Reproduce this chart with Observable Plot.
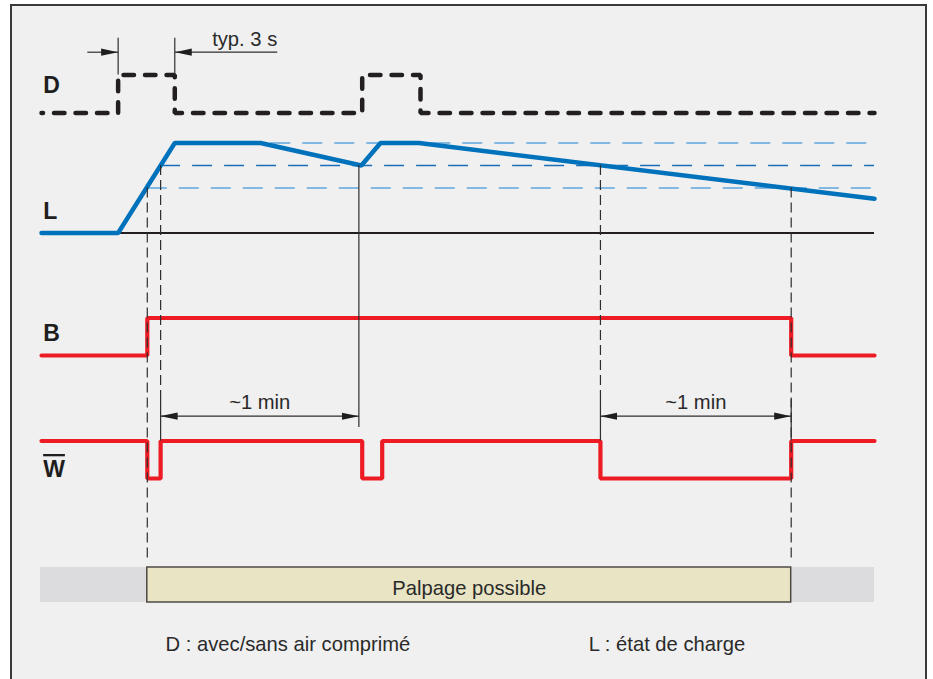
<!DOCTYPE html>
<html>
<head>
<meta charset="utf-8">
<script src="https://cdn.jsdelivr.net/npm/d3@7"></script>
<script src="https://cdn.jsdelivr.net/npm/@observablehq/plot@0.6"></script>
<style>
  body { margin: 0; background: #ffffff; }
  #wrap { position: relative; width: 933px; height: 679px; overflow: hidden; }
  #frame { position: absolute; left: 10px; top: 4px; width: 917px; height: 720px;
           border: 2px solid #3a3a3a; background: #f0f0f0; box-sizing: border-box; }
  #chart { position: absolute; left: 0; top: 0; }
</style>
</head>
<body>
<div id="wrap"><div id="frame"></div><div id="chart"></div></div>
<script>
// ---------- DATA (time in arbitrary units 0..100) ----------
const dTimes   = [0, 9.2, 16.0, 38.5, 45.5, 100];      // D : compressed air on/off
const dLevels  = [0, 1, 0, 1, 0, 0];
const lTimes   = [0, 9.2, 16.0, 26.3, 38.4, 40.7, 45.3, 100]; // L : charge state (%)
const lCharge  = [0, 0, 100, 100, 75, 100, 100, 38];
const bTimes   = [0, 12.7, 90, 100];                    // B
const bLevels  = [0, 1, 0, 0];
const wTimes   = [0, 12.7, 14.3, 38.5, 40.9, 67.1, 90, 100]; // W (inverted)
const wLevels  = [1, 0, 1, 0, 1, 0, 1, 1];
const thresholdsLight = [100, 50];
const thresholdsLightStart = [16.0, 12.7];
const thresholdsDark = [75];
const thresholdsDarkStart = [14.3];
const probeWindow = [12.7, 90];
const span3s = [9.2, 16.0];
const span3sLeader = [5.5, 28.3];
const spanMin1 = [14.3, 38.1];
const spanMin2 = [67.1, 90];
const signalLabels = ["D", "L", "B", "W"];
const captions = ["D : avec/sans air comprimé", "L : état de charge"];
const captionTimes = [14.9, 65.7];
const barLabel = "Palpage possible";
const typLabel = "typ. 3 s";
const minLabel = "~1 min";

// ---------- LAYOUT (vertical positions of lanes) ----------
const lane = {
  D: {low: 112.5, high: 74.5, label: 92},
  L: {zero: 232.5, full: 142.5, label: 218.5},
  B: {low: 355, high: 317.5, label: 340.5},
  W: {low: 478, high: 440.5, label: 476.5},
  dim3s: 51.7, dim3sTop: 37.7, typText: 45.5,
  dim1min: 415.7, dim1minTop: 399, minText: 408,
  guideBottom: 560,
  barTop: 567, barBottom: 602, barText: 594,
  caption: 650
};
const yD = v => lane.D.low + (lane.D.high - lane.D.low) * v;
const yL = p => lane.L.zero + (lane.L.full - lane.L.zero) * p / 100;
const yB = v => lane.B.low + (lane.B.high - lane.B.low) * v;
const yW = v => lane.W.low + (lane.W.high - lane.W.low) * v;
const series = (ts, vs) => ts.map((t, i) => ({t, v: vs[i]}));

const FONT = "'Liberation Sans', Arial, Helvetica, sans-serif";
const INK = "#2a2a2a";
const RED = "#ed1c24";
const BLUE = "#0072bc";
const FS = 20.2;

function solidArrow(color, context) {
  const m = d3.create("svg:marker")
    .attr("viewBox", "-17 -4 17 8")
    .attr("markerWidth", 17)
    .attr("markerHeight", 8)
    .attr("markerUnits", "userSpaceOnUse")
    .attr("orient", "auto-start-reverse")
    .attr("refX", 0).attr("refY", 0);
  m.append("path").attr("d", "M-17,-3.6L0,0L-17,3.6Z").attr("fill", "#1e1e1e").attr("stroke", "none");
  return m.node();
}

const labelY = [lane.D.label, lane.L.label, lane.B.label, lane.W.label];

const chart = Plot.plot({
  width: 933, height: 679, margin: 0,
  x: {domain: [0, 100], range: [41, 874], axis: null},
  y: {domain: [0, 679], range: [0, 679], axis: null},
  style: {background: "transparent", overflow: "visible"},
  marks: [
    // probing availability band
    Plot.rect([{a: -0.12, b: 100}], {x1: "a", x2: "b", y1: lane.barTop, y2: lane.barBottom, fill: "#dcdcde"}),
    Plot.rect([{a: probeWindow[0], b: probeWindow[1]}], {x1: "a", x2: "b", y1: lane.barTop, y2: lane.barBottom,
      fill: "#e9e4c4", stroke: "#4d4a45", strokeWidth: 1.5}),
    Plot.text([barLabel], {x: (probeWindow[0] + probeWindow[1]) / 2, y: lane.barText, text: d => d,
      lineAnchor: "bottom", textAnchor: "middle", fontFamily: FONT, fontSize: FS, fill: INK}),

    // charge thresholds
    Plot.ruleY(thresholdsLight.map((p, i) => ({p, s: thresholdsLightStart[i]})),
      {y: d => yL(d.p), x1: "s", x2: 100, stroke: "#5ea5dd", strokeWidth: 1.5, strokeDasharray: "20,12"}),
    Plot.ruleY(thresholdsDark.map((p, i) => ({p, s: thresholdsDarkStart[i]})),
      {y: d => yL(d.p), x1: "s", x2: 100, stroke: "#1a6fb8", strokeWidth: 1.4, strokeDasharray: "20,12"}),
    // L baseline
    Plot.ruleY([0], {y: p => yL(p), x1: 0, x2: 100, stroke: "#231f20", strokeWidth: 2}),

    // signals
    Plot.line(series(lTimes, lCharge), {x: "t", y: d => yL(d.v), stroke: BLUE, strokeWidth: 4.5, strokeLinejoin: "miter"}),
    Plot.line(series(dTimes, dLevels), {x: "t", y: d => yD(d.v), curve: "step-after", stroke: "#231f20",
      strokeWidth: 4.5, strokeDasharray: "10.5,11", strokeDashoffset: 9, strokeLinejoin: "miter"}),
    Plot.line(series(bTimes, bLevels), {x: "t", y: d => yB(d.v), curve: "step-after", stroke: RED, strokeWidth: 4.2, strokeLinejoin: "miter"}),
    Plot.line(series(wTimes, wLevels), {x: "t", y: d => yW(d.v), curve: "step-after", stroke: RED, strokeWidth: 4.2, strokeLinejoin: "miter"}),

    // dashed guides
    Plot.ruleX([
      {t: probeWindow[0], a: yL(50), b: lane.guideBottom},
      {t: spanMin1[0], a: yL(75), b: lane.dim1minTop},
      {t: spanMin2[0], a: yL(75), b: lane.dim1minTop},
      {t: probeWindow[1], a: yL(50), b: lane.guideBottom}
    ], {x: "t", y1: "a", y2: "b", stroke: "#2e2e2e", strokeWidth: 1.2, strokeDasharray: "10,5"}),

    // solid extension lines
    Plot.ruleX([
      {t: span3s[0], a: lane.dim3sTop, b: yD(1)},
      {t: span3s[1], a: lane.dim3sTop, b: yD(1)},
      {t: spanMin1[0], a: lane.dim1minTop, b: yW(1)},
      {t: spanMin1[1], a: yL(75), b: 427},
      {t: spanMin2[0], a: lane.dim1minTop, b: yW(1)},
      {t: spanMin2[1], a: lane.dim1minTop, b: yW(1)}
    ], {x: "t", y1: "a", y2: "b", stroke: "#2e2e2e", strokeWidth: 1.2}),

    // dimension lines
    Plot.link([{a: span3sLeader[0], b: span3s[0]}, {a: span3sLeader[1], b: span3s[1]}],
      {x1: "a", x2: "b", y1: lane.dim3s, y2: lane.dim3s, stroke: "#2e2e2e", strokeWidth: 1.2, markerEnd: solidArrow}),
    Plot.link([{a: spanMin1[0], b: spanMin1[1]}, {a: spanMin2[0], b: spanMin2[1]}],
      {x1: "a", x2: "b", y1: lane.dim1min, y2: lane.dim1min, stroke: "#2e2e2e", strokeWidth: 1.2,
       markerStart: solidArrow, markerEnd: solidArrow}),

    // annotation texts
    Plot.text([typLabel], {x: span3sLeader[1], y: lane.typText, text: d => d, lineAnchor: "bottom",
      textAnchor: "end", fontFamily: FONT, fontSize: FS, fill: INK}),
    Plot.text([spanMin1, spanMin2], {x: d => (d[0] + d[1]) / 2, y: lane.minText, text: () => minLabel,
      lineAnchor: "bottom", textAnchor: "middle", fontFamily: FONT, fontSize: FS, fill: INK}),

    // signal labels
    Plot.text(signalLabels, {x: 0.2, y: (d, i) => labelY[i], text: d => d, lineAnchor: "bottom",
      textAnchor: "start", fontFamily: FONT, fontSize: 23, fontWeight: "bold", fill: "#1e1e1e"}),

    // captions
    Plot.text(captions, {x: (d, i) => captionTimes[i], y: lane.caption, text: d => d, lineAnchor: "bottom",
      textAnchor: "start", fontFamily: FONT, fontSize: FS, fill: INK})
  ]
});

d3.select(chart).selectAll("text").filter(function () { return this.textContent === "W"; })
  .style("text-decoration", "overline");
document.getElementById("chart").appendChild(chart);
</script>
</body>
</html>
